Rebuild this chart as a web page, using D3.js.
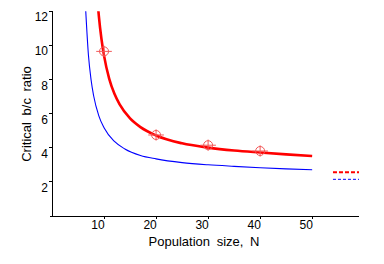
<!DOCTYPE html>
<html>
<head>
<meta charset="utf-8">
<script src="https://cdn.jsdelivr.net/npm/d3@7"></script>
<style>
body { margin: 0; background: #fff; }
text { font-family: "Liberation Sans", Arial, sans-serif; font-size: 12px; fill: #000; }
.title { font-size: 13px; word-spacing: 3px; }
</style>
</head>
<body>
<svg width="384" height="264"></svg>
<script>
// curves
const blueN = [6.45, 7, 7.5, 8, 9, 10, 12, 14, 17, 20, 25, 30, 35, 40, 45, 50];
const blueV = [12.21, 9.44, 8.0, 7.05, 5.87, 5.17, 4.37, 3.93, 3.55, 3.35, 3.13, 3.0, 2.91, 2.83, 2.76, 2.71];
const redN = [8.85, 9, 9.5, 10, 11, 12, 13, 15, 17, 20, 25, 30, 35, 40, 45, 50];
const redV = [12.24, 11.73, 10.39, 9.40, 8.04, 7.16, 6.54, 5.72, 5.21, 4.72, 4.26, 4.01, 3.84, 3.72, 3.61, 3.52];

// simulation points
const simN = [10, 20, 30, 40];
const simV = [9.65, 4.75, 4.15, 3.81];
const errN = 1.5;
const errV = 0.33;

// large N limits
const limitN = [54, 59];
const redLimit = 2.56;
const blueLimit = 2.15;

const xTicks = [10, 20, 30, 40, 50];
const yTicks = [2, 4, 6, 8, 10, 12];

const svg = d3.select('svg');

const x = d3.scaleLinear().domain([0, 59]).range([52, 359]);
const y = d3.scaleLinear().domain([0, 12]).range([216, 11.3]);

svg.append('clipPath').attr('id', 'clip')
    .append('rect')
    .attr('x', x(0)).attr('y', y(12))
    .attr('width', x(59) - x(0)).attr('height', y(0) - y(12));

// axes
const ax = svg.append('g').attr('stroke', '#000').attr('stroke-width', 1).attr('shape-rendering', 'crispEdges');
ax.append('line').attr('x1', x(0) - 2).attr('x2', x(59)).attr('y1', y(0)).attr('y2', y(0));
ax.append('line').attr('x1', x(0)).attr('x2', x(0)).attr('y1', y(0)).attr('y2', y(12));
ax.selectAll('.xt').data(xTicks).enter().append('line')
    .attr('x1', d => x(d)).attr('x2', d => x(d))
    .attr('y1', y(0)).attr('y2', y(0) + 3);
ax.selectAll('.yt').data(yTicks).enter().append('line')
    .attr('x1', x(0) - 3).attr('x2', x(0))
    .attr('y1', d => y(d)).attr('y2', d => y(d));

svg.selectAll('.xl').data(xTicks).enter().append('text')
    .attr('x', d => x(d) - 6).attr('y', y(0) + 13)
    .attr('text-anchor', 'middle')
    .text(d => d);
svg.selectAll('.yl').data(yTicks).enter().append('text')
    .attr('x', x(0) - 4).attr('y', d => y(d) + 10)
    .attr('text-anchor', 'end')
    .text(d => d);

svg.append('text').attr('class', 'title')
    .attr('x', 204).attr('y', 246)
    .attr('text-anchor', 'middle')
    .text('Population size, N');
svg.append('text').attr('class', 'title')
    .attr('transform', 'translate(31,114) rotate(-90)')
    .attr('text-anchor', 'middle')
    .text('Critical b/c ratio');

// curves
const line = d3.line().x(d => x(d[0])).y(d => y(d[1])).curve(d3.curveMonotoneX);
const plot = svg.append('g').attr('clip-path', 'url(#clip)');

plot.append('path')
    .attr('d', line(d3.zip(blueN, blueV)))
    .attr('fill', 'none').attr('stroke', '#0000ff').attr('stroke-width', 1.1);
plot.append('path')
    .attr('d', line(d3.zip(redN, redV)))
    .attr('fill', 'none').attr('stroke', '#ff0000').attr('stroke-width', 2.6);

// points with error bars
const pts = svg.append('g').attr('stroke', '#f25858').attr('fill', 'none').attr('stroke-width', 1)
    .selectAll('g').data(d3.zip(simN, simV)).enter().append('g');
pts.append('line')
    .attr('x1', d => x(d[0] - errN)).attr('x2', d => x(d[0] + errN))
    .attr('y1', d => y(d[1])).attr('y2', d => y(d[1]));
pts.append('line')
    .attr('x1', d => x(d[0])).attr('x2', d => x(d[0]))
    .attr('y1', d => y(d[1] - errV)).attr('y2', d => y(d[1] + errV));
pts.append('circle')
    .attr('cx', d => x(d[0])).attr('cy', d => y(d[1])).attr('r', 4.5);

// limits
svg.append('line')
    .attr('x1', x(limitN[0])).attr('x2', x(limitN[1]))
    .attr('y1', y(redLimit)).attr('y2', y(redLimit))
    .attr('stroke', '#ff0000').attr('stroke-width', 2).attr('stroke-dasharray', '4,2');
svg.append('line')
    .attr('x1', x(limitN[0])).attr('x2', x(limitN[1]))
    .attr('y1', y(blueLimit)).attr('y2', y(blueLimit))
    .attr('stroke', '#0000ff').attr('stroke-width', 1).attr('stroke-dasharray', '3,2');
</script>
</body>
</html>
